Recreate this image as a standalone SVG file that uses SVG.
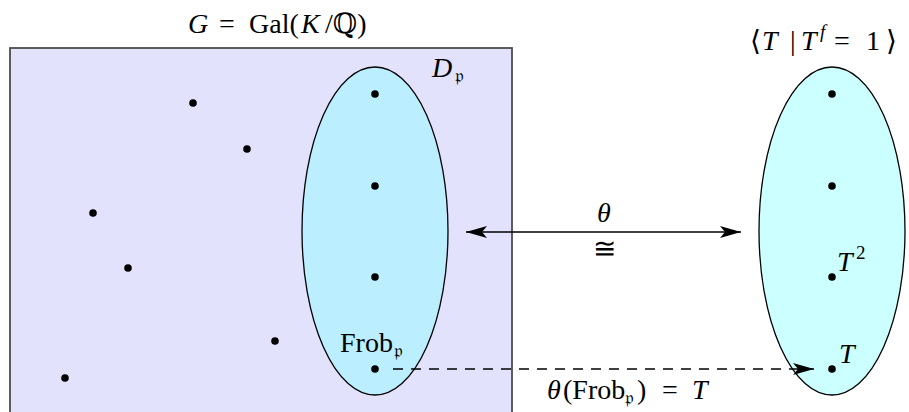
<svg xmlns="http://www.w3.org/2000/svg" width="909" height="412" viewBox="0 0 909 412">
<defs>
<style>
text{font-family:"Liberation Serif","DejaVu Serif",serif;font-size:28px;fill:#000}
.i{font-style:italic}
.sub{font-size:19px}
.dot{fill:#000}
.ell{stroke:#000;stroke-width:1.3}
</style>
<marker id="ah" viewBox="0 0 21 12" refX="21" refY="6" markerWidth="21" markerHeight="12" markerUnits="userSpaceOnUse" orient="auto-start-reverse">
<path d="M0,0 L21,6 L0,12 L5,6 Z" fill="#000"/>
</marker>
</defs>
<g id="group-G">
<rect x="10" y="48" width="502" height="380" fill="#e2e2fc" stroke="#4d4d4d" stroke-width="1.8"/>
<text y="33"><tspan x="188" class="i">G</tspan><tspan x="219">=</tspan><tspan x="249">Gal(</tspan><tspan x="301" class="i">K</tspan><tspan x="325">/ℚ)</tspan></text>
<circle class="dot" cx="193" cy="103" r="3.8"/>
<circle class="dot" cx="247" cy="149" r="3.8"/>
<circle class="dot" cx="93" cy="213" r="3.8"/>
<circle class="dot" cx="128" cy="268" r="3.8"/>
<circle class="dot" cx="275" cy="341" r="3.8"/>
<circle class="dot" cx="65" cy="378" r="3.8"/>
</g>
<g id="D-p">
<ellipse class="ell" cx="375" cy="231" rx="73" ry="164" fill="#bbeeff"/>
<text y="77"><tspan x="432" class="i">D</tspan><tspan x="455" class="sub" dy="5">𝔭</tspan></text>
<circle class="dot" cx="375" cy="94" r="3.8"/>
<circle class="dot" cx="375" cy="186" r="3.8"/>
<circle class="dot" cx="375" cy="277" r="3.8"/>
<circle class="dot" cx="375" cy="369" r="3.8"/>
<text y="352"><tspan x="340">Frob</tspan><tspan x="394" class="sub" dy="5">𝔭</tspan></text>
</g>
<g id="cyclic-T">
<ellipse class="ell" cx="832" cy="231" rx="73" ry="164" fill="#ccffff"/>
<text y="50"><tspan x="750">⟨</tspan><tspan x="762" class="i">T</tspan><tspan x="790">|</tspan><tspan x="801" class="i">T</tspan><tspan x="820" dy="-12" class="sub i">f</tspan><tspan x="834" dy="12">=</tspan><tspan x="866">1</tspan><tspan x="886">⟩</tspan></text>
<circle class="dot" cx="832" cy="94" r="3.8"/>
<circle class="dot" cx="832" cy="186" r="3.8"/>
<circle class="dot" cx="832" cy="277" r="3.8"/>
<circle class="dot" cx="832" cy="369" r="3.8"/>
<text y="271"><tspan x="837" class="i">T</tspan><tspan x="856" dy="-12" class="sub">2</tspan></text>
<text x="839" y="363" class="i">T</text>
</g>
<g id="connectors">
<line x1="466" y1="232" x2="741" y2="232" stroke="#000" stroke-width="1.5" marker-start="url(#ah)" marker-end="url(#ah)"/>
<text x="604" y="222" text-anchor="middle" class="i">θ</text>
<text x="604" y="258" text-anchor="middle">≅</text>
<line x1="393" y1="369" x2="814" y2="369" stroke="#000" stroke-width="1.3" stroke-dasharray="10,8" marker-end="url(#ah)"/>
<text y="399"><tspan x="547" class="i">θ</tspan><tspan x="563">(Frob</tspan><tspan x="625" dy="5" class="sub">𝔭</tspan><tspan x="637" dy="-5">)</tspan><tspan x="662">=</tspan><tspan x="692" class="i">T</tspan></text>
</g>
</svg>
